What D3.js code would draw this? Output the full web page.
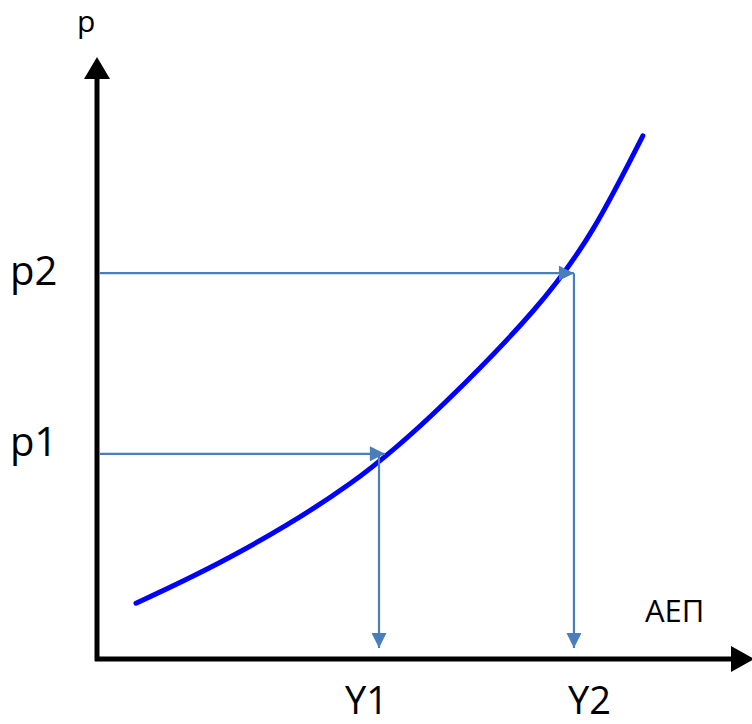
<!DOCTYPE html>
<html>
<head>
<meta charset="utf-8">
<script src="https://cdn.jsdelivr.net/npm/d3@7"></script>
<style>
  html, body { margin: 0; padding: 0; background: #fff; }
  svg { display: block; }
  text { font-family: "Open Sans", "Liberation Sans", sans-serif; fill: #000; }
</style>
</head>
<body>
<script>
// ---- data (model units) ----
const curveY = [6.0, 20.5, 38.9, 53.8, 67.1, 76.3, 84.0];   // output (ΑΕΠ)
const curveP = [9.3, 17.0, 29.2, 43.0, 58.0, 71.6, 87.2];   // price level
const levelNames = ["p1", "p2"];
const levelP = [34.2, 64.3];
const outputNames = ["Y1", "Y2"];
const outputY = [43.4, 73.4];
const axisTitleX = "ΑΕΠ";
const axisTitleY = "p";

// ---- layout ----
const W = 752, H = 724;
const svg = d3.select("body").append("svg").attr("width", W).attr("height", H);

const x = d3.scaleLinear().domain([0, 100.8]).range([97, 752]);
const y = d3.scaleLinear().domain([0, 100]).range([659, 59]);

const defs = svg.append("defs");
defs.append("marker")
  .attr("id", "blueArrow")
  .attr("viewBox", "0 0 10 10")
  .attr("refX", 10).attr("refY", 5)
  .attr("markerUnits", "userSpaceOnUse")
  .attr("markerWidth", 16).attr("markerHeight", 15)
  .attr("orient", "auto")
  .append("path").attr("d", "M0,0 L10,5 L0,10 Z").attr("fill", "#4A7EBB");

// ---- axes ----
const axisG = svg.append("g");
axisG.append("line")
  .attr("x1", x(0)).attr("x2", x(0))
  .attr("y1", y(0) + 2).attr("y2", y(100) + 18)
  .attr("stroke", "#000").attr("stroke-width", 5);
axisG.append("path")
  .attr("d", `M${x(0)},${y(100) - 2} L${x(0) - 13},${y(100) + 20} L${x(0) + 13},${y(100) + 20} Z`)
  .attr("fill", "#000");
axisG.append("line")
  .attr("x1", x(0) - 2).attr("x2", x(100.8) - 18)
  .attr("y1", y(0)).attr("y2", y(0))
  .attr("stroke", "#000").attr("stroke-width", 5);
axisG.append("path")
  .attr("d", `M${x(100.8) + 2},${y(0)} L${x(100.8) - 21},${y(0) - 13} L${x(100.8) - 21},${y(0) + 13} Z`)
  .attr("fill", "#000");

// ---- curve ----
const pts = curveY.map((v, i) => [v, curveP[i]]);
const line = d3.line().x(d => x(d[0])).y(d => y(d[1])).curve(d3.curveNatural);
svg.append("path")
  .datum(pts)
  .attr("d", line)
  .attr("fill", "none")
  .attr("stroke", "#0000FF")
  .attr("stroke-width", 5)
  .attr("stroke-linecap", "round");

function curveAt(p) {
  for (let i = 0; i < pts.length - 1; i++) {
    const a = pts[i], b = pts[i + 1];
    if (p >= a[1] && p <= b[1]) return a[0] + (b[0] - a[0]) * (p - a[1]) / (b[1] - a[1]);
  }
  return pts[pts.length - 1][0];
}

// ---- guide arrows ----
const g = svg.append("g");
levelP.forEach((p, i) => {
  const yv = outputY[i];
  const tip = Math.max(curveAt(p), yv);
  g.append("line")
    .attr("x1", x(0) + 2).attr("x2", x(tip))
    .attr("y1", y(p)).attr("y2", y(p))
    .attr("stroke", "#4A7EBB").attr("stroke-width", 2.2)
    .attr("marker-end", "url(#blueArrow)");
  g.append("line")
    .attr("x1", x(yv)).attr("x2", x(yv))
    .attr("y1", y(p)).attr("y2", y(0) - 11)
    .attr("stroke", "#4A7EBB").attr("stroke-width", 2.2)
    .attr("marker-end", "url(#blueArrow)");
});

// ---- labels ----
svg.append("text").attr("x", 77).attr("y", 32).attr("font-size", 30).text(axisTitleY);
const levelOffsets = [2, 12];
levelNames.forEach((n, i) => {
  svg.append("text").attr("x", 10).attr("y", y(levelP[i]) + levelOffsets[i]).attr("font-size", 40).text(n);
});
const labelOffsets = [-34, -6];
outputNames.forEach((n, i) => {
  svg.append("text").attr("x", x(outputY[i]) + labelOffsets[i]).attr("y", 714).attr("font-size", 38).text(n);
});
svg.append("text").attr("x", 645).attr("y", 622).attr("font-size", 31).text(axisTitleX);
</script>
</body>
</html>
